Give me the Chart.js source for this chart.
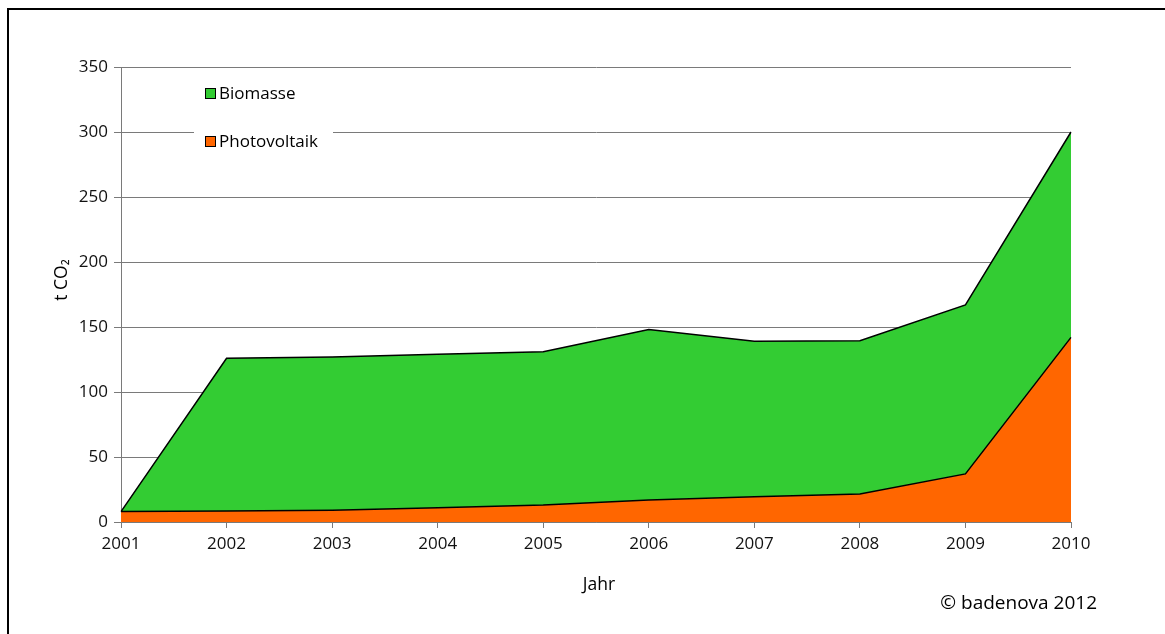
<!DOCTYPE html>
<html>
<head>
<meta charset="utf-8">
<script src="https://cdn.jsdelivr.net/npm/chart.js@4.4.1/dist/chart.umd.min.js"></script>
<style>
  html, body { margin: 0; padding: 0; background: #fff; }
  #wrap { width: 1165px; height: 634px; position: relative; }
</style>
</head>
<body>
<div id="wrap"><canvas id="c" width="1165" height="634"></canvas></div>
<script>
const years = ['2001','2002','2003','2004','2005','2006','2007','2008','2009','2010'];
const photovoltaik = [8, 8.5, 9, 11, 13, 17, 19.5, 21.5, 37, 142];
const biomasse = [0, 117.5, 118, 118, 118, 131, 119.5, 118, 130, 158];
const yTicks = [0, 50, 100, 150, 200, 250, 300, 350];

const FONT = '"Open Sans", "Noto Sans", sans-serif';

const decor = {
  id: 'decor',
  afterDraw(chart) {
    const ctx = chart.ctx;
    ctx.save();
    // outer frame
    ctx.strokeStyle = '#000';
    ctx.lineWidth = 2;
    ctx.beginPath();
    ctx.moveTo(8, 640);
    ctx.lineTo(8, 9);
    ctx.lineTo(1170, 9);
    ctx.stroke();

    // legend box
    ctx.fillStyle = '#fff';
    ctx.fillRect(194, 80, 139, 76);
    const items = [
      { ds: chart.data.datasets[1], y: 94 },
      { ds: chart.data.datasets[0], y: 142 }
    ];
    ctx.font = '17px ' + FONT;
    ctx.textBaseline = 'middle';
    ctx.textAlign = 'left';
    items.forEach(it => {
      ctx.fillStyle = it.ds.backgroundColor;
      ctx.fillRect(205.5, it.y - 5.5, 10, 10);
      ctx.strokeStyle = '#000';
      ctx.lineWidth = 1;
      ctx.strokeRect(205.5, it.y - 5.5, 10, 10);
      ctx.fillStyle = '#000';
      ctx.fillText(it.ds.label, 219, it.y);
    });

    // axis titles
    ctx.fillStyle = '#000';
    ctx.font = '17.5px ' + FONT;
    ctx.textAlign = 'center';
    ctx.textBaseline = 'middle';
    const xs = chart.scales.x;
    ctx.fillText('Jahr', 599, 585);
    ctx.save();
    ctx.translate(62, 280);
    ctx.rotate(-Math.PI / 2);
    ctx.fillText('t CO\u2082', 0, 0);
    ctx.restore();

    ctx.font = '19px ' + FONT;
    ctx.textAlign = 'right';
    ctx.fillText('\u00a9 badenova 2012', 1097, 604);
    ctx.restore();
  }
};

new Chart(document.getElementById('c'), {
  type: 'line',
  data: {
    labels: years,
    datasets: [
      {
        label: 'Photovoltaik',
        data: photovoltaik,
        backgroundColor: '#FF6600',
        borderColor: '#000',
        borderWidth: 1.5,
        fill: 'origin',
        pointRadius: 0,
        tension: 0
      },
      {
        label: 'Biomasse',
        data: biomasse,
        backgroundColor: '#33CC33',
        borderColor: '#000',
        borderWidth: 1.5,
        fill: '-1',
        pointRadius: 0,
        tension: 0
      }
    ]
  },
  options: {
    responsive: false,
    animation: false,
    layout: { padding: { left: 0, right: 94, top: 67, bottom: 0 } },
    plugins: { legend: { display: false }, tooltip: { enabled: false } },
    scales: {
      x: {
        offset: false,
        grid: { display: true, drawOnChartArea: false, drawTicks: true, tickLength: 6, color: '#7a7a7a' },
        border: { display: true, color: '#7a7a7a' },
        ticks: { color: '#111', font: { size: 17, family: FONT }, padding: 6, maxRotation: 0 },
        afterFit(s) { s.height = 112; }
      },
      y: {
        stacked: true,
        min: 0,
        max: 350,
        afterBuildTicks(s) { s.ticks = yTicks.map(v => ({ value: v })); },
        grid: { color: '#7a7a7a', lineWidth: 1, drawTicks: true, tickLength: 7 },
        border: { display: true, color: '#7a7a7a' },
        ticks: { color: '#111', font: { size: 17, family: FONT }, padding: 6 },
        afterFit(s) { s.width = 121; }
      }
    }
  },
  plugins: [decor]
});
</script>
</body>
</html>
